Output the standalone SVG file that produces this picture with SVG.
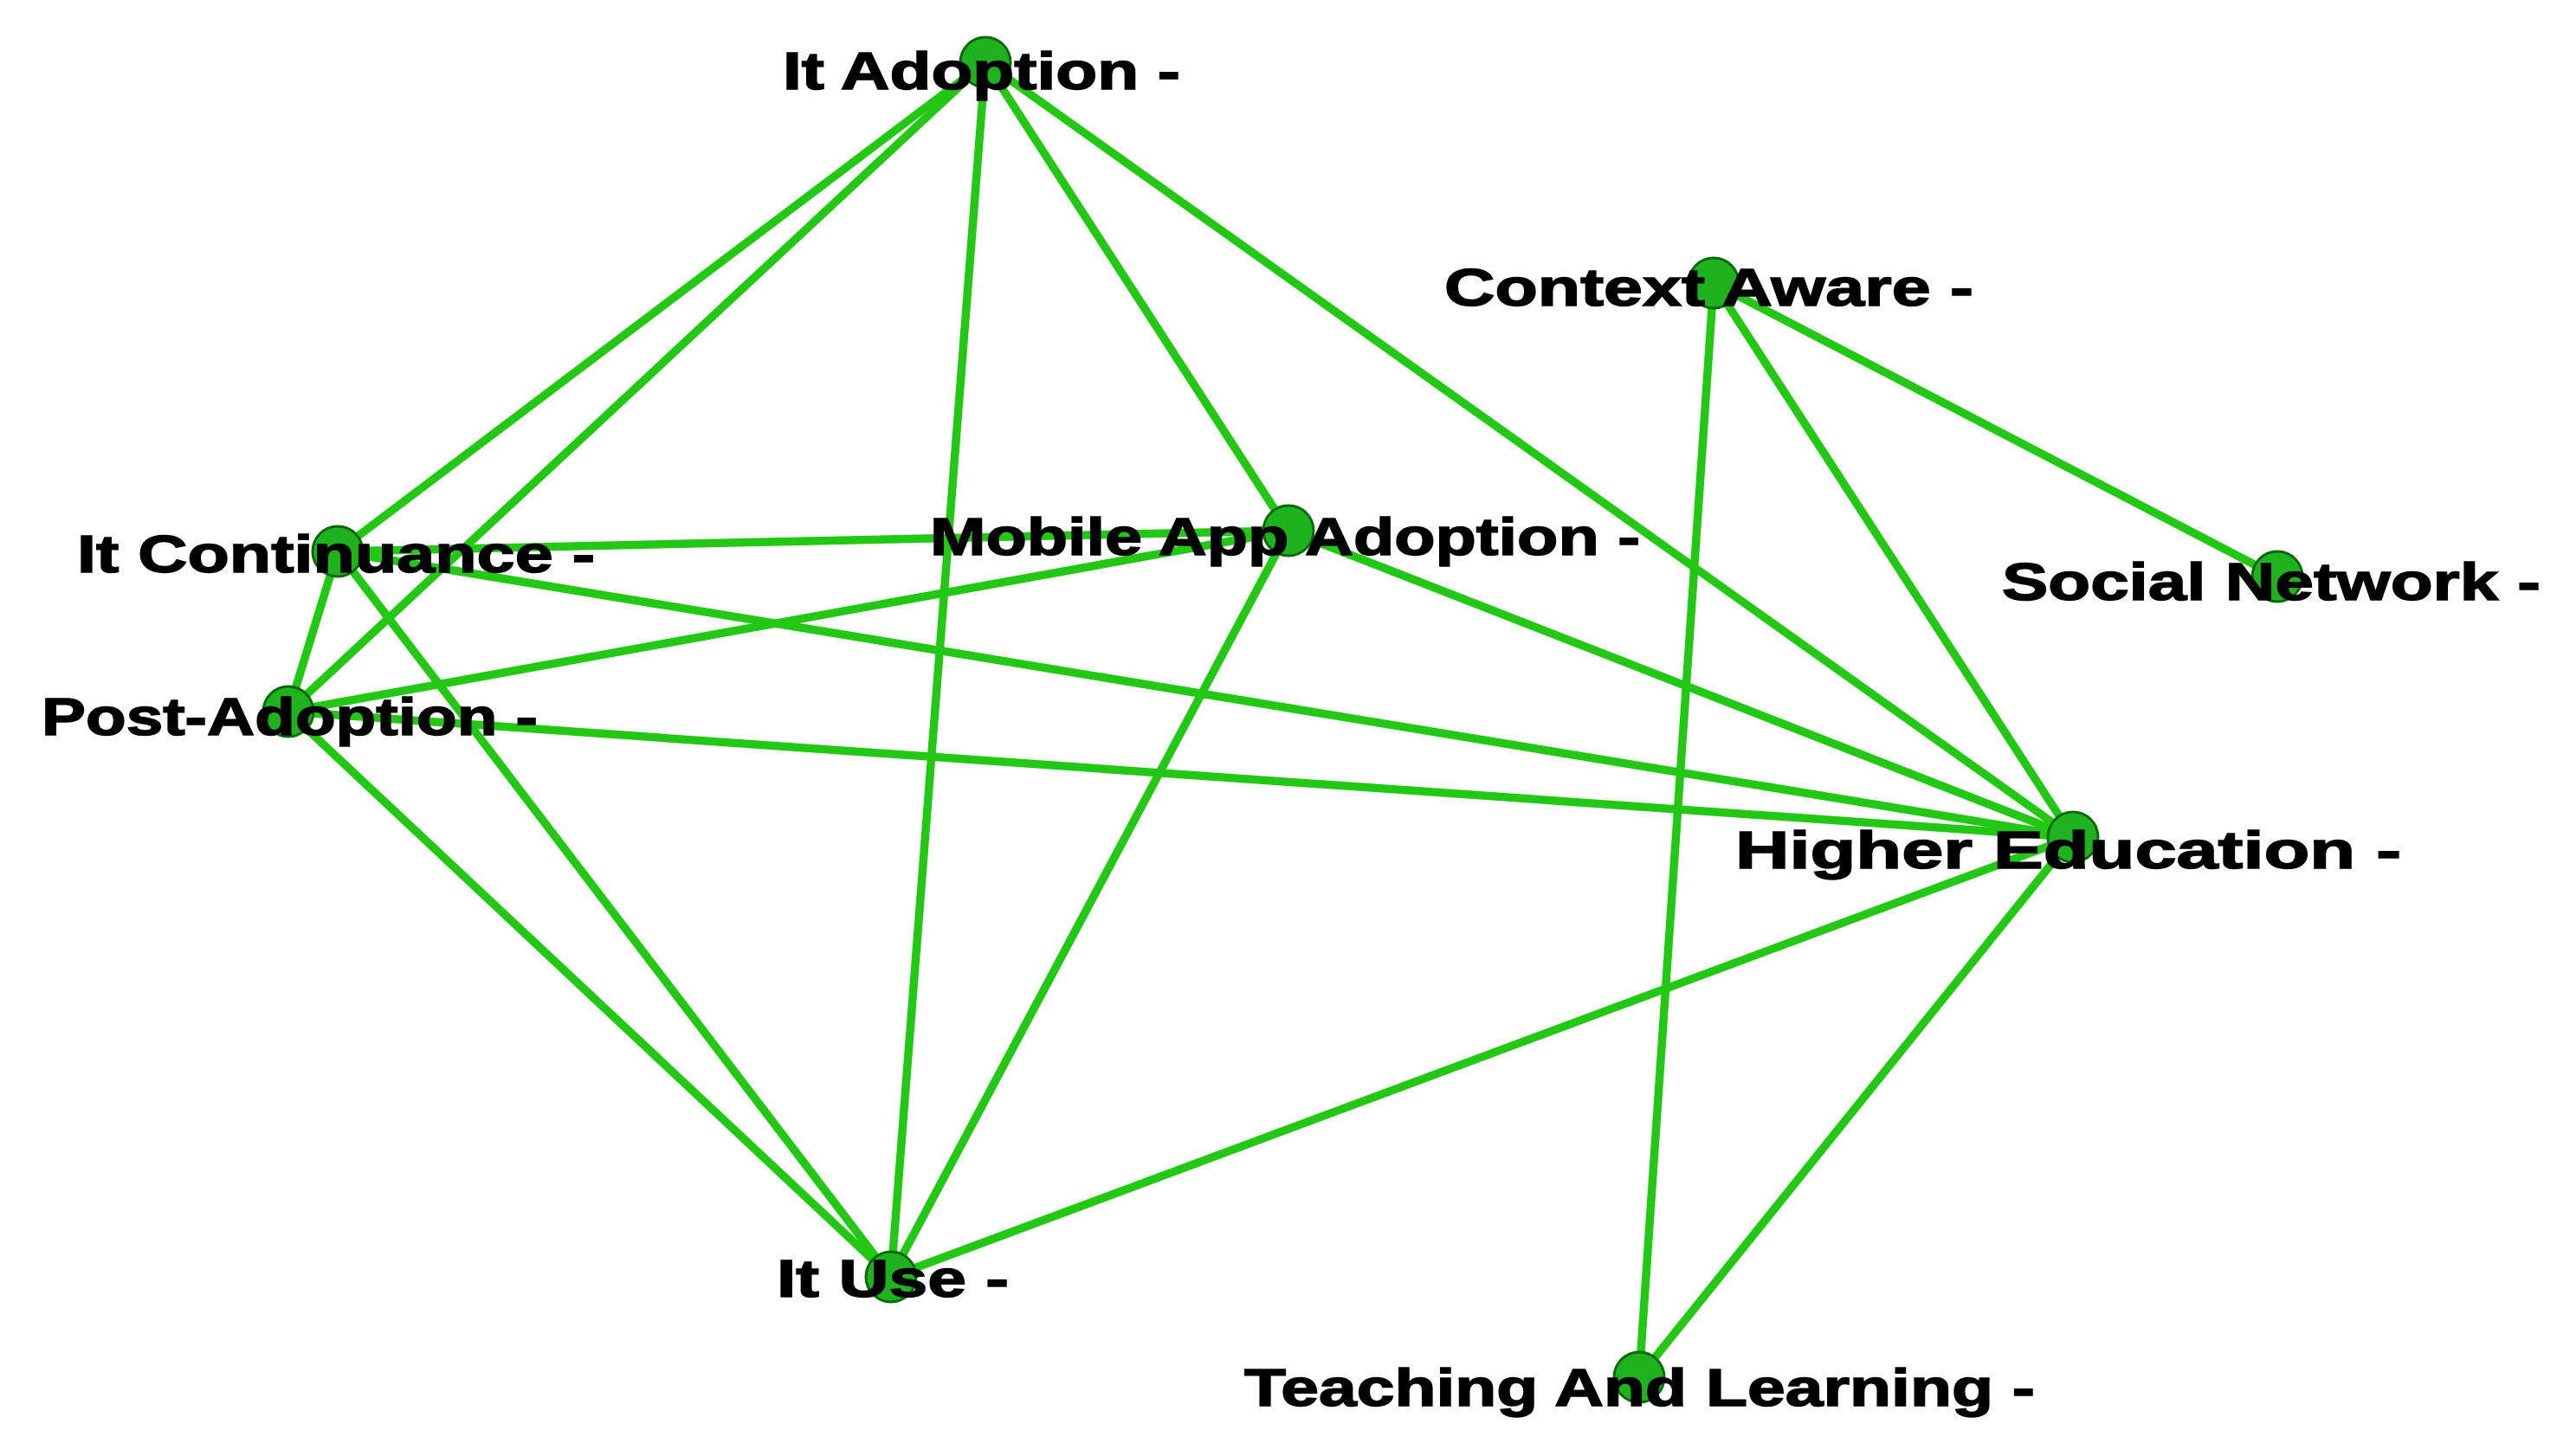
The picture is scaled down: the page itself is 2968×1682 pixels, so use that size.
<svg xmlns="http://www.w3.org/2000/svg" width="2968" height="1682" viewBox="0 0 2968 1682">
<style>
.e{stroke:#22c814;stroke-width:9.5;fill:none}
.n{fill:#1fb21f;stroke:#0a6a0a;stroke-width:3}
.t{font-family:"Liberation Sans",Arial,sans-serif;font-weight:bold;font-size:62px;fill:#000;stroke:#000;stroke-width:1.5}
</style>
<rect width="2968" height="1682" fill="#fff"/>
<g id="edges">
<line class="e" x1="1138" y1="72" x2="390" y2="637"/>
<line class="e" x1="1138" y1="72" x2="333" y2="822"/>
<line class="e" x1="1138" y1="72" x2="1029" y2="1475"/>
<line class="e" x1="1138" y1="72" x2="1488" y2="613"/>
<line class="e" x1="1138" y1="72" x2="2394" y2="967"/>
<line class="e" x1="1979" y1="327" x2="1893" y2="1591"/>
<line class="e" x1="1979" y1="327" x2="2394" y2="967"/>
<line class="e" x1="1979" y1="327" x2="2630" y2="666"/>
<line class="e" x1="390" y1="637" x2="1488" y2="613"/>
<line class="e" x1="390" y1="637" x2="333" y2="822"/>
<line class="e" x1="390" y1="637" x2="2394" y2="967"/>
<line class="e" x1="390" y1="637" x2="1029" y2="1475"/>
<line class="e" x1="333" y1="822" x2="1488" y2="613"/>
<line class="e" x1="333" y1="822" x2="2394" y2="967"/>
<line class="e" x1="333" y1="822" x2="1029" y2="1475"/>
<line class="e" x1="1488" y1="613" x2="1029" y2="1475"/>
<line class="e" x1="1488" y1="613" x2="2394" y2="967"/>
<line class="e" x1="2394" y1="967" x2="1029" y2="1475"/>
<line class="e" x1="2394" y1="967" x2="1893" y2="1591"/>
</g>
<g id="n-itadoption"><circle class="n" cx="1138" cy="72" r="29"/><text class="t" x="904" y="103" textLength="459" lengthAdjust="spacingAndGlyphs">It Adoption -</text></g>
<g id="n-contextaware"><circle class="n" cx="1979" cy="327" r="29"/><text class="t" x="1668" y="353" textLength="611" lengthAdjust="spacingAndGlyphs">Context Aware -</text></g>
<g id="n-itcontinuance"><circle class="n" cx="390" cy="637" r="29"/><text class="t" x="89" y="661" textLength="598" lengthAdjust="spacingAndGlyphs">It Continuance -</text></g>
<g id="n-mobileapp"><circle class="n" cx="1488" cy="613" r="29"/><text class="t" x="1074" y="641" textLength="820" lengthAdjust="spacingAndGlyphs">Mobile App Adoption -</text></g>
<g id="n-socialnetwork"><circle class="n" cx="2630" cy="666" r="29"/><text class="t" x="2312" y="693" textLength="622" lengthAdjust="spacingAndGlyphs">Social Network -</text></g>
<g id="n-postadoption"><circle class="n" cx="333" cy="822" r="29"/><text class="t" x="48" y="849" textLength="573" lengthAdjust="spacingAndGlyphs">Post-Adoption -</text></g>
<g id="n-highered"><circle class="n" cx="2394" cy="967" r="29"/><text class="t" x="2004" y="1003" textLength="769" lengthAdjust="spacingAndGlyphs">Higher Education -</text></g>
<g id="n-ituse"><circle class="n" cx="1029" cy="1475" r="29"/><text class="t" x="897" y="1498" textLength="268" lengthAdjust="spacingAndGlyphs">It Use -</text></g>
<g id="n-teaching"><circle class="n" cx="1893" cy="1591" r="29"/><text class="t" x="1437" y="1624" textLength="913" lengthAdjust="spacingAndGlyphs">Teaching And Learning -</text></g>
</svg>
